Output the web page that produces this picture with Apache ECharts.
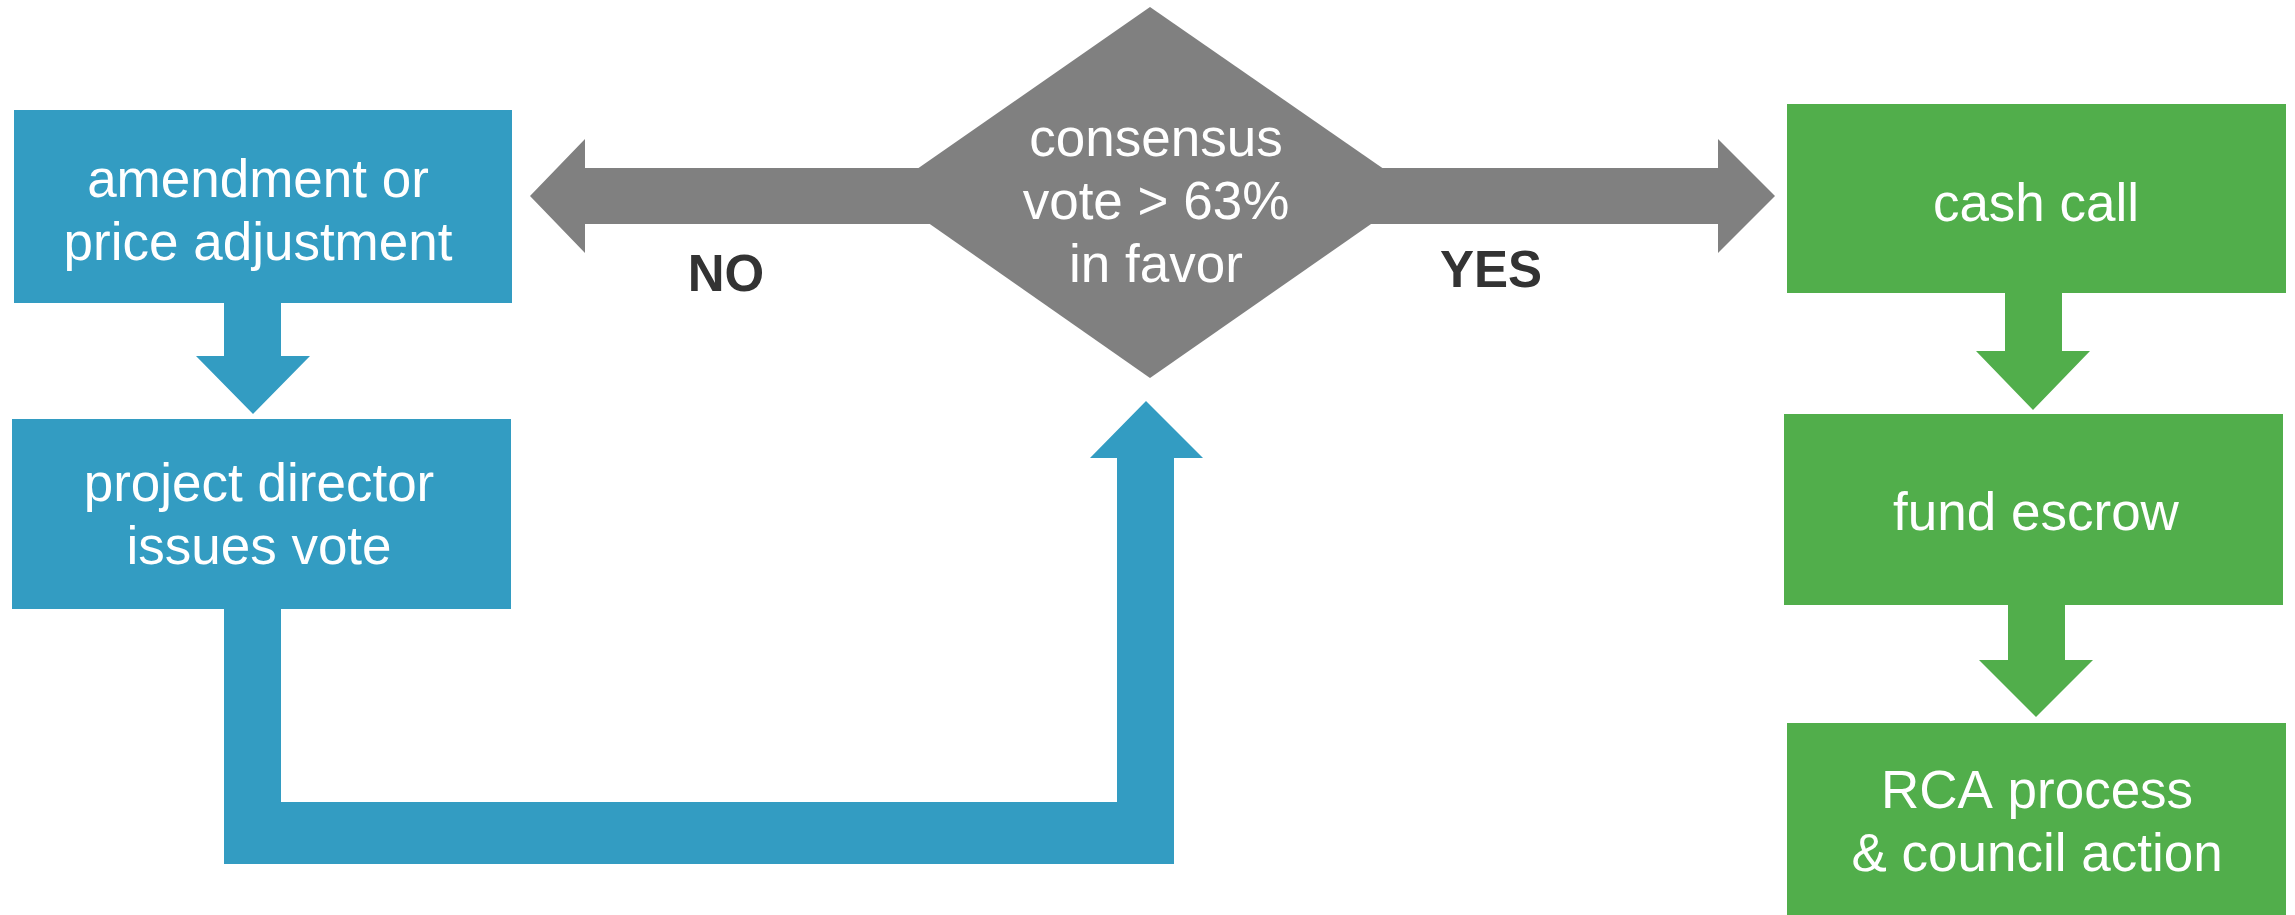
<!DOCTYPE html>
<html>
<head>
<meta charset="utf-8">
<script src="https://cdn.jsdelivr.net/npm/echarts@6/dist/echarts.min.js"></script>
<style>
html,body{margin:0;padding:0;background:#fff;}
#chart{width:2295px;height:915px;}
</style>
</head>
<body>
<div id="chart"></div>
<script>
// ---- content ----
const nodeLabels = [
  'amendment or\nprice adjustment',
  'project director\nissues vote',
  'consensus\nvote > 63%\nin favor',
  'cash call',
  'fund escrow',
  'RCA process\n& council action'
];
const nodeGroups = ['blue', 'blue', 'gray', 'green', 'green', 'green'];
const edgeLabels = ['NO', 'YES'];

// ---- layout (axis units on a 2295 x 915 canvas) ----
const palette = { blue: '#339cc2', green: '#51ae4b', gray: '#808080', dark: '#333333' };
const nodeShapes = [
  [[14,110],[512,110],[512,303],[14,303]],
  [[12,419],[511,419],[511,609],[12,609]],
  [[1150,7],[1417,192],[1150,378],[884,192]],
  [[1787,104],[2286,104],[2286,293],[1787,293]],
  [[1784,414],[2283,414],[2283,605],[1784,605]],
  [[1787,723],[2286,723],[2286,915],[1787,915]]
];
const nodeTextPos = [[258,214],[259,518],[1156,204],[2036,206],[2036,515],[2037,825]];
const arrowShapes = [
  { g: 'blue', pts: [[224,303],[281,303],[281,356],[310,356],[253,414],[196,356],[224,356]] },
  { g: 'blue', pts: [[224,609],[281,609],[281,802],[1117,802],[1117,458],[1090,458],[1146,401],[1203,458],[1174,458],[1174,864],[224,864]] },
  { g: 'gray', pts: [[530,196],[585,139],[585,168],[1000,168],[1000,224],[585,224],[585,253]] },
  { g: 'gray', pts: [[1775,196],[1718,139],[1718,168],[1300,168],[1300,224],[1718,224],[1718,253]] },
  { g: 'green', pts: [[2005,293],[2062,293],[2062,351],[2090,351],[2033,410],[1976,351],[2005,351]] },
  { g: 'green', pts: [[2008,605],[2065,605],[2065,660],[2093,660],[2036,717],[1979,660],[2008,660]] }
];
const edgeTextPos = [[726,277],[1491,273]];

// build items: arrows first, then nodes, then edge labels
const items = [];
arrowShapes.forEach(a => items.push({ kind: 'poly', pts: a.pts, color: palette[a.g] }));
nodeLabels.forEach((t, i) => items.push({ kind: 'node', pts: nodeShapes[i], color: palette[nodeGroups[i]], text: t, tp: nodeTextPos[i] }));
edgeLabels.forEach((t, i) => items.push({ kind: 'edge', text: t, tp: edgeTextPos[i] }));

const chart = echarts.init(document.getElementById('chart'), null, { renderer: 'canvas' });
chart.setOption({
  animation: false,
  backgroundColor: '#ffffff',
  grid: { left: 0, right: 0, top: 0, bottom: 0 },
  xAxis: { type: 'value', min: 0, max: 2295, show: false },
  yAxis: { type: 'value', min: 0, max: 915, inverse: true, show: false },
  series: [{
    type: 'custom',
    coordinateSystem: 'cartesian2d',
    clip: false,
    silent: true,
    data: items.map((_, i) => [i, 0]),
    renderItem: function (params, api) {
      const it = items[params.dataIndex];
      const children = [];
      if (it.pts) {
        children.push({
          type: 'polygon',
          shape: { points: it.pts.map(p => api.coord(p)) },
          style: { fill: it.color, stroke: null }
        });
      }
      if (it.text) {
        const c = api.coord(it.tp);
        const isEdge = it.kind === 'edge';
        children.push({
          type: 'text',
          style: {
            x: c[0], y: c[1], text: it.text,
            fill: isEdge ? palette.dark : '#ffffff',
            fontFamily: '"Liberation Sans", Arial, sans-serif',
            fontSize: isEdge ? 51 : 53,
            fontWeight: isEdge ? 'bold' : 'normal',
            lineHeight: 63,
            align: 'center', verticalAlign: 'middle'
          }
        });
      }
      return { type: 'group', children: children };
    }
  }]
});
</script>
</body>
</html>
